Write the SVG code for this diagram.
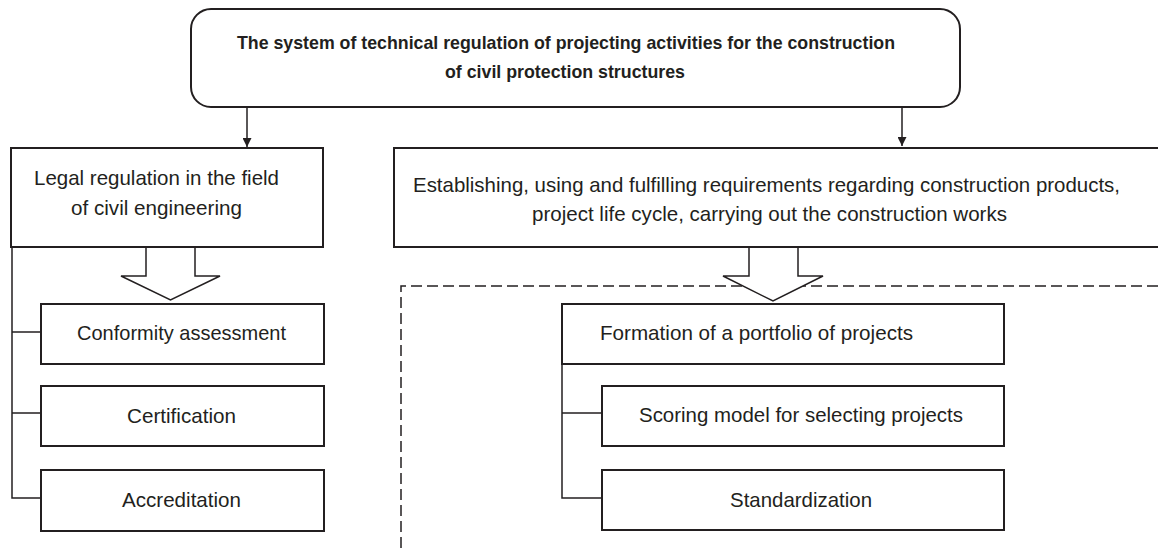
<svg xmlns="http://www.w3.org/2000/svg" width="1158" height="552" viewBox="0 0 1158 552">
<style>
  .box{fill:#fff;stroke:#231f20;stroke-width:2}
  .ln{fill:none;stroke:#231f20;stroke-width:1.5}
  .hollow{fill:#fff;stroke:#231f20;stroke-width:1.5;stroke-linejoin:miter}
  .dash{fill:none;stroke:#231f20;stroke-width:1.5;stroke-dasharray:11 5}
  .t{font-family:"Liberation Sans",Arial,sans-serif;font-size:21px;fill:#231f20}
  .tb{font-family:"Liberation Sans",Arial,sans-serif;font-size:18.5px;font-weight:bold;fill:#231f20}
</style>
<defs>
  <marker id="ah" viewBox="0 0 10 10" refX="10" refY="5" markerWidth="9" markerHeight="9" markerUnits="userSpaceOnUse" orient="auto">
    <path d="M0,0 L10,5 L0,10 z" fill="#231f20"/>
  </marker>
</defs>

<g id="connectors">
  <path class="dash" d="M401,548 V286 H1160"/>
  <line class="ln" x1="247" y1="107" x2="247" y2="147" marker-end="url(#ah)"/>
  <line class="ln" x1="902" y1="107" x2="902" y2="146" marker-end="url(#ah)"/>
  <path class="ln" d="M12,247 V498 H41 M12,332 H41 M12,413 H41"/>
  <path class="ln" d="M562,364 V498 H602 M562,413 H602"/>
  <path class="hollow" d="M146,247 V276 H121 L170.5,300 L220,276 H195 V247"/>
  <path class="hollow" d="M749,247 V276 H723 L773,301 L823,276 H798 V247"/>
</g>

<g id="top">
  <rect class="box" x="191" y="9" width="769" height="98" rx="20" ry="20"/>
  <text class="tb" x="566" y="49" text-anchor="middle" textLength="658" lengthAdjust="spacingAndGlyphs">The system of technical regulation of projecting activities for the construction</text>
  <text class="tb" x="565" y="78" text-anchor="middle" textLength="240" lengthAdjust="spacingAndGlyphs">of civil protection structures</text>
</g>

<g id="legal">
  <rect class="box" x="11" y="148" width="312" height="99"/>
  <text class="t" x="156.5" y="185" text-anchor="middle" textLength="245" lengthAdjust="spacingAndGlyphs">Legal regulation in the field</text>
  <text class="t" x="156.5" y="215" text-anchor="middle" textLength="171" lengthAdjust="spacingAndGlyphs">of civil engineering</text>
</g>

<g id="establishing">
  <rect class="box" x="394" y="148" width="770" height="99"/>
  <text class="t" x="766.5" y="192" text-anchor="middle" textLength="707" lengthAdjust="spacingAndGlyphs">Establishing, using and fulfilling requirements regarding construction products,</text>
  <text class="t" x="769.5" y="221" text-anchor="middle" textLength="475" lengthAdjust="spacingAndGlyphs">project life cycle, carrying out the construction works</text>
</g>

<g id="conformity">
  <rect class="box" x="41" y="304" width="283" height="60"/>
  <text class="t" x="181.5" y="340" text-anchor="middle" textLength="209" lengthAdjust="spacingAndGlyphs">Conformity assessment</text>
</g>

<g id="certification">
  <rect class="box" x="41" y="386" width="283" height="60"/>
  <text class="t" x="181.5" y="423" text-anchor="middle" textLength="109" lengthAdjust="spacingAndGlyphs">Certification</text>
</g>

<g id="accreditation">
  <rect class="box" x="41" y="470" width="283" height="61"/>
  <text class="t" x="181.5" y="507" text-anchor="middle" textLength="119" lengthAdjust="spacingAndGlyphs">Accreditation</text>
</g>

<g id="formation">
  <rect class="box" x="562" y="304" width="442" height="60"/>
  <text class="t" x="600" y="340" textLength="313" lengthAdjust="spacingAndGlyphs">Formation of a portfolio of projects</text>
</g>

<g id="scoring">
  <rect class="box" x="602" y="386" width="402" height="60"/>
  <text class="t" x="801" y="422" text-anchor="middle" textLength="324" lengthAdjust="spacingAndGlyphs">Scoring model for selecting projects</text>
</g>

<g id="standardization">
  <rect class="box" x="602" y="470" width="402" height="60"/>
  <text class="t" x="801" y="507" text-anchor="middle" textLength="142" lengthAdjust="spacingAndGlyphs">Standardization</text>
</g>
</svg>
